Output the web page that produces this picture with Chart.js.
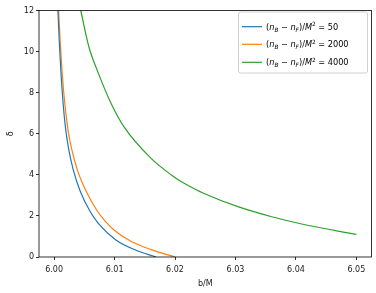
<!DOCTYPE html>
<html>
<head>
<meta charset="utf-8">
<script src="https://cdn.jsdelivr.net/npm/chart.js@4/dist/chart.umd.min.js"></script>
<style>
  html, body { margin: 0; padding: 0; background: #fff; }
</style>
</head>
<body>
<canvas id="c" width="376" height="293"></canvas>
<script>
// values
const seriesNums = ['50', '2000', '4000'];
const seriesColors = ['#1f77b4', '#ff7f0e', '#2ca02c'];

const bBlue = [6.00063, 6.00085, 6.00115, 6.00151, 6.00188, 6.00238, 6.00317, 6.00432, 6.00598, 6.00731, 6.01022, 6.01354, 6.01686];
const dBlue = [12, 10.5, 8.88, 7.4, 6.3, 5.3, 4.24, 3.2, 2.2, 1.64, 0.83, 0.33, 0];

const bOrange = [6.00075, 6.00100, 6.00135, 6.00179, 6.00234, 6.00287, 6.00384, 6.00520, 6.00703, 6.00844, 6.01005, 6.01287, 6.01603, 6.02002];
const dOrange = [12, 10.5, 8.88, 7.4, 6.1, 5.3, 4.24, 3.26, 2.29, 1.75, 1.28, 0.74, 0.36, 0];

const bGreen = [6.0044, 6.00578, 6.00718, 6.00939, 6.0116, 6.0160, 6.0194, 6.0210, 6.0227, 6.0249, 6.0304, 6.0360, 6.0415, 6.0500];
const dGreen = [12, 10.2, 9.05, 7.5, 6.32, 4.81, 3.99, 3.67, 3.40, 3.08, 2.45, 1.96, 1.57, 1.10];

const xTicks = [6.00, 6.01, 6.02, 6.03, 6.04, 6.05];
const yTicks = [0, 2, 4, 6, 8, 10, 12];

const FONT = 'DejaVu Sans';

function pts(xs, ys) {
  return xs.map((x, i) => ({ x: x, y: ys[i] }));
}

// frame round the plot, like matplotlib spines
const framePlugin = {
  id: 'frame',
  afterDraw(chart) {
    const a = chart.chartArea;
    const ctx = chart.ctx;
    ctx.save();
    ctx.strokeStyle = '#000';
    ctx.lineWidth = 0.8;
    ctx.strokeRect(a.left, a.top, a.right - a.left, a.bottom - a.top);
    ctx.restore();
  }
};

// legend with sub/superscripts drawn as text
const mathLegend = {
  id: 'mathLegend',
  afterDraw(chart) {
    const ctx = chart.ctx;
    const bx = 238.5, by = 12, bw = 129, bh = 61;
    ctx.save();
    ctx.fillStyle = 'rgba(255,255,255,0.8)';
    ctx.strokeStyle = '#d0d0d0';
    ctx.lineWidth = 1;
    ctx.beginPath();
    ctx.roundRect(bx, by, bw, bh, 2);
    ctx.fill();
    ctx.stroke();

    const rows = [26.7, 44.3, 62.3];
    chart.data.datasets.forEach((ds, i) => {
      const y = rows[i];
      ctx.strokeStyle = ds.borderColor;
      ctx.lineWidth = 1.2;
      ctx.beginPath();
      ctx.moveTo(242, y);
      ctx.lineTo(262, y);
      ctx.stroke();
      drawLabel(ctx, 266, y + 3, seriesNums[i]);
    });
    ctx.restore();
  }
};

function drawLabel(ctx, x, y, num) {
  const base = 8.2, small = 5.8;
  const parts = [
    { t: '(', f: base + 'px ' + FONT, dy: 0 },
    { t: 'n', f: 'italic ' + base + 'px ' + FONT, dy: 0 },
    { t: 'B', f: 'italic ' + small + 'px ' + FONT, dy: 1.8 },
    { t: ' \u2212 ', f: base + 'px ' + FONT, dy: 0 },
    { t: 'n', f: 'italic ' + base + 'px ' + FONT, dy: 0 },
    { t: 'F', f: 'italic ' + small + 'px ' + FONT, dy: 1.8 },
    { t: ')/', f: base + 'px ' + FONT, dy: 0 },
    { t: 'M', f: 'italic ' + base + 'px ' + FONT, dy: 0 },
    { t: '2', f: small + 'px ' + FONT, dy: -3.4 },
    { t: ' = ' + num, f: base + 'px ' + FONT, dy: 0 }
  ];
  ctx.fillStyle = '#000';
  ctx.textBaseline = 'alphabetic';
  ctx.textAlign = 'left';
  let cx = x;
  parts.forEach(p => {
    ctx.font = p.f;
    ctx.fillText(p.t, cx, y + p.dy);
    cx += ctx.measureText(p.t).width;
  });
}

new Chart(document.getElementById('c'), {
  type: 'scatter',
  data: {
    datasets: [
      { label: '(n_B − n_F)/M² = ' + seriesNums[0], data: pts(bBlue, dBlue), borderColor: seriesColors[0] },
      { label: '(n_B − n_F)/M² = ' + seriesNums[1], data: pts(bOrange, dOrange), borderColor: seriesColors[1] },
      { label: '(n_B − n_F)/M² = ' + seriesNums[2], data: pts(bGreen, dGreen), borderColor: seriesColors[2] }
    ].map(d => Object.assign(d, {
      showLine: true,
      borderWidth: 1.2,
      pointRadius: 0,
      cubicInterpolationMode: 'monotone',
      fill: false
    }))
  },
  options: {
    responsive: false,
    animation: false,
    devicePixelRatio: 1,
    layout: { padding: { left: 0, right: 4.5, top: 10.5, bottom: 0 } },
    plugins: {
      legend: { display: false },
      tooltip: { enabled: false }
    },
    scales: {
      x: {
        type: 'linear',
        min: 5.9975,
        max: 6.0525,
        afterBuildTicks: s => { s.ticks = xTicks.map(v => ({ value: v })); },
        afterFit: s => { s.height = 36; },
        border: { display: false },
        grid: { drawOnChartArea: false, drawTicks: true, tickLength: 3, color: '#000', tickWidth: 0.8 },
        ticks: { color: '#222', font: { family: FONT, size: 8 }, padding: 5, maxRotation: 0, callback: v => v.toFixed(2) },
        title: { display: true, text: 'b/M', color: '#222', font: { family: FONT, size: 8 }, padding: { top: 0, bottom: 4 } }
      },
      y: {
        min: 0,
        max: 12,
        afterBuildTicks: s => { s.ticks = yTicks.map(v => ({ value: v })); },
        afterFit: s => { s.width = 39; },
        border: { display: false },
        grid: { drawOnChartArea: false, drawTicks: true, tickLength: 3, color: '#000', tickWidth: 0.8 },
        ticks: { color: '#222', font: { family: FONT, size: 8 }, padding: 2 },
        title: { display: true, text: 'δ', color: '#222', font: { family: FONT, size: 8 }, padding: { top: 6, bottom: 0 } }
      }
    }
  },
  plugins: [framePlugin, mathLegend]
});
</script>
</body>
</html>
